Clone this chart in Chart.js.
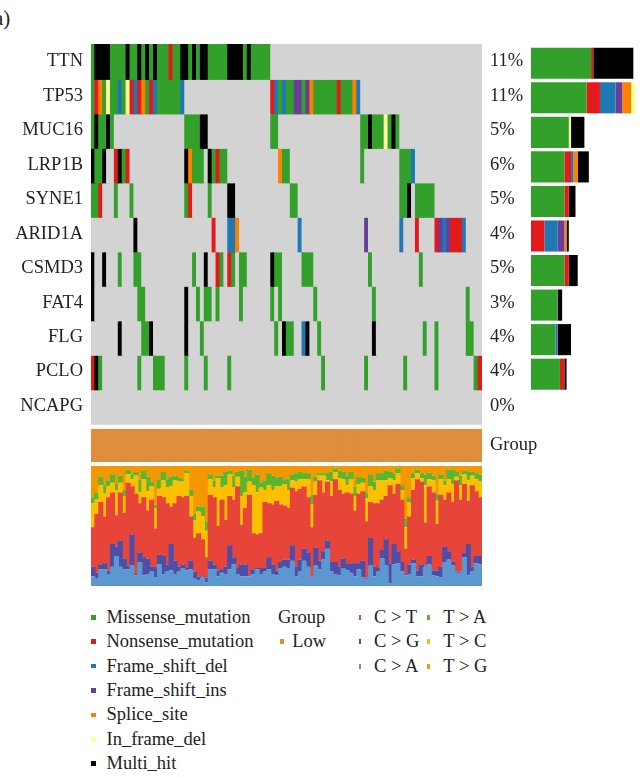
<!DOCTYPE html>
<html>
<head>
<meta charset="utf-8">
<title>Oncoplot</title>
<script src="https://cdn.jsdelivr.net/npm/chart.js@4.4.1/dist/chart.umd.min.js"></script>
<style>
  body { margin: 0; background: #fff; }
  #page { position: relative; width: 640px; height: 778px; overflow: hidden; font-family: "Liberation Serif", serif; color: #222; }
  #page canvas { position: absolute; }
  .txt { position: absolute; font-size: 18.5px; line-height: 18px; white-space: nowrap; }
  .mark { position: absolute; }
</style>
</head>
<body>
<div id="page">
  <div class="txt" style="left:-6px; top:8px; font-size:21px; line-height:20px;">a)</div>
  <canvas id="onco" width="570" height="458" style="left:0; top:24px;"></canvas>
  <canvas id="side" width="109" height="380" style="left:531px; top:46px;"></canvas>
  <canvas id="titv" width="391" height="120" style="left:91px; top:466px;"></canvas>
</div>
<script>
const genes = ["TTN", "TP53", "MUC16", "LRP1B", "SYNE1", "ARID1A", "CSMD3", "FAT4", "FLG", "PCLO", "NCAPG"];
const freqLabels = ["11%", "11%", "5%", "6%", "5%", "4%", "5%", "3%", "4%", "4%", "0%"];

const variantCodes = ["M", "N", "D", "I", "S", "F", "X"];
const variantNames = ["Missense_mutation", "Nonsense_mutation", "Frame_shift_del", "Frame_shift_ins", "Splice_site", "In_frame_del", "Multi_hit"];
const variantColors = ["#33a02c", "#e31a1c", "#1f78b4", "#6a3d9a", "#ff7f00", "#ffff99", "#000000"];
const noMutationColor = "#d4d3d3";

// one string per gene, one character per sample; "." = not mutated
const mutationRows = [
  "MXXXXMMMMX" + "MMXMXMXMMM" + "NMMXXMXMXX" + "MMMMMXXXXM" + "XMMMMM...." + ".........." + ".........." + ".........." + ".........." + "..........",
  "MNSMFMMDMF" + "NDNSMNDMMM" + "MMMD......" + ".........." + "......NDMD" + "MMIIMISMMM" + "MMMNMMMSD." + ".........." + ".........." + "..........",
  "MXMMXM...." + ".........." + "....MMMMXX" + ".........." + "......MM.." + ".........." + ".........M" + "MXMMMFMXM." + ".........." + "..........",
  "XMMX..NXMN" + ".........." + "....XSMMM." + "XMNMM....." + "........SM" + "M........." + ".........M" + ".........M" + "MMD......." + "..........",
  "MMN...M..." + "M........." + "....MN...." + "M....XX..." + ".........." + ".MM......." + ".........." + ".........M" + "MX.MMMMM.." + "..........",
  ".........." + ".X........" + ".........." + ".N...DDS.." + ".........." + "...D......" + ".........." + "I........D" + "...N....NI" + "DINNND....",
  "X..X...M.." + ".MM......." + "......M..X" + "..NM.NM.MM" + "......XMM." + "....MMM..." + ".........." + ".M........" + "....M....." + "..........",
  "X........." + "..MM......" + "....X..M.M" + "M.M.....M." + "......M.M." + ".......M.." + ".........." + "..M......." + ".........." + "......M...",
  ".......X.." + "...MMX...." + "....X...M." + ".........." + ".......M.X" + "MM..DX..M." + ".........." + "..X......." + ".....M..M." + "......MM..",
  "NXM......." + "..M...MMM." + "....M....M" + ".....M...." + ".........." + ".........M" + ".........." + "M........." + "M.......M." + "........MN",
  ".........." + ".........." + ".........." + ".........." + ".........." + ".........." + ".........." + ".........." + ".........." + ".........."
];

const groupName = "Group";
const groupLevels = ["Low"];
const groupColor = "#df8e3e";

// per-sample transition/transversion fractions (%)
const titvCA = [8,6,14,14,10,16,25,16,14,14, 17,9,20,9,10,12,7,18,10,12, 13,10,12,15,13,14,6,5,7,3, 14,14,8,11,10,14,18,10,8,8, 8,10,14,10,12,14,10,9,15,16, 15,21,8,12,21,16,7,17,14,22, 31,12,10,9,15,13,11,8,14,7, 6,17,8,12,23,17,2,18,19,12, 9,10,19,8,8,16,18,9,8,7, 20,22,17,11,11,24,9,12,19,18];
const titvCG = [8,5,4,5,3,19,8,22,9,3, 26,1,8,15,13,4,9,8,15,6, 22,11,4,3,2,7,6,3,1,4, 7,4,5,3,6,20,6,5,10,10, 1,4,1,5,3,10,8,4,5,6, 7,13,8,10,10,12,1,15,7,7, 7,8,10,7,8,6,8,11,5,14, 1,23,8,3,7,22,17,17,10,8, 1,8,3,5,10,1,7,4,5,9, 13,7,3,1,1,4,26,4,6,7];
const titvCT = [33,49,52,39,61,43,26,40,38,69, 40,67,41,50,40,56,32,49,49,51, 31,48,59,56,60,37,28,36,31,17, 55,56,37,58,39,41,48,68,33,47, 67,30,28,29,55,45,50,58,48,45, 43,48,63,59,52,46,41,44,67,49, 49,55,69,64,54,59,58,44,58,58, 47,30,53,54,42,36,65,42,56,52, 21,40,58,76,69,36,58,65,39,60, 39,49,50,76,60,57,36,68,54,49];
const titvTC = [20,12,14,19,9,8,21,8,14,7, 6,15,9,15,16,11,17,6,14,13, 17,19,12,13,19,17,15,18,19,22, 13,8,40,10,29,18,10,8,24,13, 11,40,35,38,10,15,12,12,15,18, 15,6,8,8,6,15,19,11,4,14, 1,12,6,10,12,6,12,12,8,7, 19,13,11,19,16,13,6,11,9,8, 18,12,10,5,3,31,6,10,19,13, 12,11,15,3,12,8,17,8,10,13];
const titvTA = [5,6,7,7,5,7,5,6,5,4, 4,3,11,7,12,4,3,8,7,7, 8,4,3,2,2,5,5,4,8,8, 4,6,2,10,11,3,10,4,21,13, 10,6,15,4,8,10,12,7,8,4, 9,5,7,6,5,5,8,4,2,2, 6,8,3,6,6,8,6,8,6,4, 5,10,7,6,6,8,5,6,4,4, 7,4,4,3,4,9,5,4,6,4, 4,8,12,4,8,3,7,3,5,6];
const titvTG = [26,22,9,16,12,7,15,8,20,3, 7,5,11,4,9,13,32,11,5,11, 9,8,10,11,4,20,40,34,34,46, 7,12,8,8,5,4,8,5,4,9, 3,10,7,14,12,6,8,10,9,11, 11,7,6,5,6,6,24,9,6,6, 6,5,2,4,5,8,5,17,9,10, 22,7,13,6,6,4,5,6,2,16, 44,26,6,3,6,7,6,8,23,7, 12,3,3,5,8,4,5,5,6,7];

const titvClasses = ["C > T", "C > G", "C > A", "T > A", "T > C", "T > G"];
const titvColors = { "C > T": "#e8453a", "C > G": "#4e4ea8", "C > A": "#5b98cf", "T > A": "#5ab52f", "T > C": "#fcc000", "T > G": "#f39800" };

Chart.defaults.font.family = "'Liberation Serif', serif";
Chart.defaults.color = "#222";

const nSamples = mutationRows[0].length;
const samples = Array.from({ length: nSamples }, (_, i) => "S" + (i + 1));
const cellColor = { ".": noMutationColor };
variantCodes.forEach((c, i) => { cellColor[c] = variantColors[i]; });

const groupTop = 11.16;
const groupBottom = 12.12;

// bars a bit wider than their slot so neighbouring cells overlap (no hairline seams)
const cellWidth = 1.3;

function rowAxis(position, labels, values, width) {
  return {
    type: "linear",
    position,
    reverse: true,
    min: 0,
    max: groupBottom,
    grid: { display: false, drawTicks: false },
    border: { display: false },
    afterBuildTicks(scale) {
      scale.ticks = values.map((v) => ({ value: v }));
    },
    afterFit(scale) {
      scale.width = width;
      scale.paddingTop = 0;
      scale.paddingBottom = 0;
    },
    ticks: {
      autoSkip: false,
      padding: 8,
      color: "#222",
      font: { size: 18.5 },
      callback: (value, index) => labels[index],
    },
  };
}

function initOncoplot() {
  const datasets = genes.map((gene, gi) => ({
    label: gene,
    data: samples.map(() => [gi, gi + 1.04]),
    backgroundColor: mutationRows[gi].split("").map((c) => cellColor[c]),
    grouped: false,
    barPercentage: cellWidth,
    categoryPercentage: 1,
    borderWidth: 0,
  }));
  datasets.push({
    label: groupName,
    data: samples.map(() => [groupTop, groupBottom]),
    backgroundColor: groupColor,
    grouped: false,
    barPercentage: cellWidth,
    categoryPercentage: 1,
    borderWidth: 0,
  });

  const centers = genes.map((g, i) => i + 0.5);
  new Chart(document.getElementById("onco"), {
    type: "bar",
    data: { labels: samples, datasets },
    options: {
      responsive: false,
      animation: false,
      layout: { padding: { top: 20, bottom: 20, left: 0, right: 0 } },
      plugins: { legend: { display: false }, tooltip: { enabled: false } },
      scales: {
        x: { display: false },
        y: rowAxis("left", genes, centers, 91),
        y2: rowAxis("right", freqLabels.concat([groupName]), centers.concat([(groupTop + groupBottom) / 2]), 88),
      },
    },
  });
}

function initSideBars() {
  const datasets = variantCodes.map((code, vi) => ({
    label: variantNames[vi],
    data: mutationRows.map((row) => row.split("").filter((c) => c === code).length),
    backgroundColor: variantColors[vi],
    barPercentage: 0.9,
    categoryPercentage: 1,
    borderWidth: 0,
  }));
  new Chart(document.getElementById("side"), {
    type: "bar",
    data: { labels: genes, datasets },
    options: {
      indexAxis: "y",
      responsive: false,
      animation: false,
      layout: { padding: 0 },
      plugins: { legend: { display: false }, tooltip: { enabled: false } },
      scales: {
        x: { stacked: true, min: 0, max: 49, display: false },
        y: { stacked: true, display: false },
      },
    },
  });
}

function initTiTv() {
  // stacked bottom-up
  const stack = [
    ["C > A", titvCA],
    ["C > G", titvCG],
    ["C > T", titvCT],
    ["T > C", titvTC],
    ["T > A", titvTA],
    ["T > G", titvTG],
  ];
  new Chart(document.getElementById("titv"), {
    type: "bar",
    data: {
      labels: samples,
      datasets: stack.map(([name, values]) => ({
        label: name,
        data: values,
        backgroundColor: titvColors[name],
        barPercentage: cellWidth,
        categoryPercentage: 1,
        borderWidth: 0,
      })),
    },
    options: {
      responsive: false,
      animation: false,
      layout: { padding: 0 },
      plugins: { legend: { display: false }, tooltip: { enabled: false } },
      scales: {
        x: { stacked: true, display: false },
        y: { stacked: true, min: 0, max: 100, display: false },
      },
    },
  });
}

function addText(text, x, baseline) {
  const el = document.createElement("div");
  el.className = "txt";
  el.textContent = text;
  el.style.left = x + "px";
  el.style.top = baseline - 15.5 + "px";
  document.getElementById("page").appendChild(el);
}

function addMark(color, x, baseline, w, h) {
  const el = document.createElement("div");
  el.className = "mark";
  el.style.left = x + "px";
  el.style.top = baseline - 6 - h / 2 + "px";
  el.style.width = w + "px";
  el.style.height = h + "px";
  el.style.background = color;
  document.getElementById("page").appendChild(el);
}

function buildLegend() {
  const base = 623.3;
  const step = 24.4;
  variantNames.forEach((name, i) => {
    addMark(variantColors[i], 91, base + i * step, 4.5, 4.5);
    addText(name, 106.5, base + i * step);
  });
  addText(groupName, 278, base);
  groupLevels.forEach((lvl, i) => {
    addMark(groupColor, 279.5, base + (i + 1) * step, 4.5, 4.5);
    addText(lvl, 292.3, base + (i + 1) * step);
  });
  titvClasses.forEach((name, i) => {
    const col = Math.floor(i / 3);
    const row = i % 3;
    addMark(titvColors[name], col ? 427.3 : 358.6, base + row * step, 2.6, 5);
    addText(name, col ? 443.3 : 374, base + row * step);
  });
}

document.addEventListener("DOMContentLoaded", () => {
  initOncoplot();
  initSideBars();
  initTiTv();
  buildLegend();
});
</script>
</body>
</html>
